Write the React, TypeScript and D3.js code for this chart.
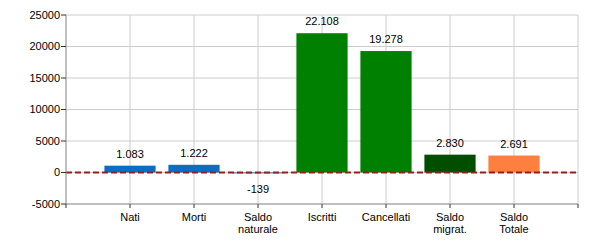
import React from "react";
import * as d3 from "d3";

const categories: string[][] = [["Nati"], ["Morti"], ["Saldo", "naturale"], ["Iscritti"], ["Cancellati"], ["Saldo", "migrat."], ["Saldo", "Totale"]];
const values: number[] = [1083, 1222, -139, 22108, 19278, 2830, 2691];
const colors: string[] = ["#0a6fc2", "#0a6fc2", "#0a6fc2", "#008000", "#008000", "#004f00", "#ff7f3f"];
const yTicks: number[] = [-5000, 0, 5000, 10000, 15000, 20000, 25000];

const W = 600, H = 250;
const L = 66, R = 578, T = 15, B = 204;

const fmt = (v: number) => {
  const s = Math.abs(v).toString().replace(/\B(?=(\d{3})+(?!\d))/g, ".");
  return (v < 0 ? "-" : "") + s;
};

export default function App() {
  const x = d3.scaleLinear().domain([0, categories.length + 1]).range([L, R]);
  const y = d3.scaleLinear().domain([-5000, 25000]).range([B, T]);
  const xTicks = d3.range(0, categories.length + 2);
  const bw = (x(1) - x(0)) * 0.8;
  const font = "Arial, 'Liberation Sans', sans-serif";
  return (
    <svg width={W} height={H} style={{ position: "absolute", left: 0, top: 0, background: "#fff" }} fontFamily={font} fontSize={11}>
      {yTicks.map((t) => (
        <line key={"gy" + t} x1={L} x2={R} y1={y(t)} y2={y(t)} stroke="#cccccc" strokeWidth={1} />
      ))}
      {xTicks.map((t) => (
        <line key={"gx" + t} x1={x(t)} x2={x(t)} y1={T} y2={B} stroke="#cccccc" strokeWidth={1} />
      ))}
      {values.map((v, i) => {
        const cx = x(i + 1);
        return (
          <rect key={"b" + i} x={cx - bw / 2} width={bw} y={Math.min(y(v), y(0))} height={Math.abs(y(v) - y(0))} fill={colors[i]} />
        );
      })}
      <line x1={L} x2={R} y1={y(0)} y2={y(0)} stroke="#9b1c1c" strokeWidth={2} strokeDasharray="6,3" />
      <line x1={L} x2={L} y1={T} y2={B} stroke="#999" />
      <line x1={L} x2={R} y1={B} y2={B} stroke="#999" />
      {yTicks.map((t) => (
        <g key={"ty" + t}>
          <line x1={L - 5} x2={L} y1={y(t)} y2={y(t)} stroke="#333" />
          <text x={L - 6} y={y(t)} dy="0.35em" textAnchor="end" fill="#000">{t}</text>
        </g>
      ))}
      {xTicks.map((t) => (
        <line key={"tx" + t} x1={x(t)} x2={x(t)} y1={B} y2={B + 4} stroke="#333" />
      ))}
      {categories.map((c, i) => (
        <text key={"c" + i} x={x(i + 1)} y={B + 17} textAnchor="middle" fill="#000">
          {c.map((line, j) => (
            <tspan key={j} x={x(i + 1)} dy={j === 0 ? 0 : 12}>{line}</tspan>
          ))}
        </text>
      ))}
      {values.map((v, i) => (
        <text key={"v" + i} x={x(i + 1)} y={v >= 0 ? y(v) - 8 : y(v) + 20} textAnchor="middle" fill="#000">{fmt(v)}</text>
      ))}
    </svg>
  );
}
